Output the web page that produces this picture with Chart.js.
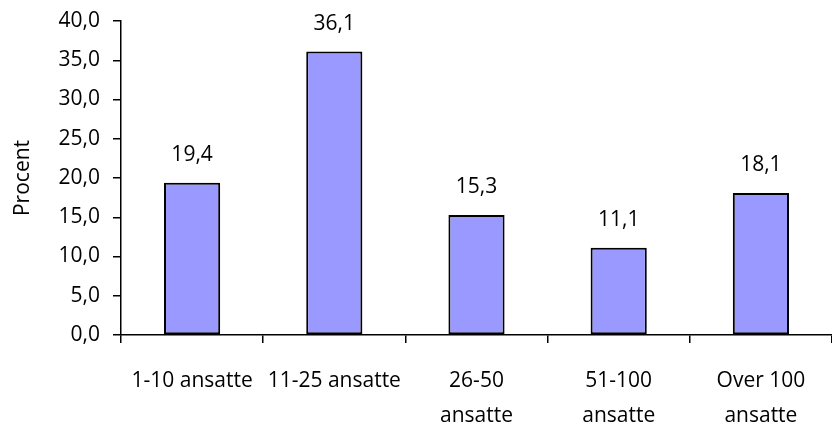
<!DOCTYPE html>
<html>
<head>
<meta charset="utf-8">
<script src="https://cdn.jsdelivr.net/npm/chart.js@4/dist/chart.umd.min.js"></script>
<style>
  html, body { margin: 0; padding: 0; background: #fff; }
  #wrap { width: 832px; height: 425px; }
</style>
</head>
<body>
<div id="wrap"><canvas id="c" width="832" height="425"></canvas></div>
<script>
// Virksomheder fordelt på antal ansatte (procent)
const categories = [
  '1-10 ansatte',
  '11-25 ansatte',
  ['26-50', 'ansatte'],
  ['51-100', 'ansatte'],
  ['Over 100', 'ansatte']
];
const procent = [19.4, 36.1, 15.3, 11.1, 18.1];
const yTicks = [0, 5, 10, 15, 20, 25, 30, 35, 40];

const FONT = "'Open Sans', 'Liberation Sans', sans-serif";
const SIZE = 21;
const fmt = v => Number(v).toFixed(1).replace('.', ',');

// Writes each bar's value above it
const valueLabels = {
  id: 'valueLabels',
  afterDatasetsDraw(chart) {
    const ctx = chart.ctx;
    const meta = chart.getDatasetMeta(0);
    const ds = chart.data.datasets[0];
    ctx.save();
    ctx.font = SIZE + 'px ' + FONT;
    ctx.fillStyle = '#000';
    ctx.textAlign = 'center';
    ctx.textBaseline = 'middle';
    meta.data.forEach((bar, i) => {
      ctx.fillText(fmt(ds.data[i]), bar.x, bar.y - 28);
    });
    ctx.restore();
  }
};

new Chart(document.getElementById('c'), {
  type: 'bar',
  data: {
    labels: categories,
    datasets: [{
      data: procent,
      backgroundColor: '#9999ff',
      borderColor: '#000',
      borderWidth: 2,
      borderSkipped: false,
      barPercentage: 0.395,
      categoryPercentage: 1
    }]
  },
  options: {
    responsive: false,
    animation: false,
    devicePixelRatio: 1,
    layout: { padding: { left: 0, top: 21, right: 0, bottom: 0 } },
    plugins: { legend: { display: false }, tooltip: { enabled: false } },
    scales: {
      x: {
        grid: {
          offset: true,
          drawOnChartArea: false,
          drawTicks: true,
          tickLength: 8,
          color: '#000',
          lineWidth: 1.5
        },
        border: { color: '#000', width: 1.5 },
        ticks: {
          color: '#000',
          padding: 21,
          maxRotation: 0,
          autoSkip: false,
          font: { family: FONT, size: SIZE, lineHeight: 1.667 }
        },
        afterFit(scale) {
          scale.height = 90;
          scale.paddingLeft = 0;
          scale.paddingRight = 0;
        }
      },
      y: {
        min: 0,
        max: 40,
        afterBuildTicks(scale) { scale.ticks = yTicks.map(v => ({ value: v })); },
        grid: {
          drawOnChartArea: false,
          drawTicks: true,
          tickLength: 8,
          color: '#000',
          lineWidth: 1.5
        },
        border: { color: '#000', width: 1.5 },
        ticks: {
          color: '#000',
          padding: 13,
          callback: v => fmt(v),
          font: { family: FONT, size: SIZE }
        },
        title: {
          display: true,
          text: 'Procent',
          color: '#000',
          padding: { top: 10, bottom: 0 },
          font: { family: FONT, size: SIZE }
        },
        afterFit(scale) {
          scale.width = 121;
          scale.paddingTop = 0;
          scale.paddingBottom = 0;
        }
      }
    }
  },
  plugins: [valueLabels]
});
</script>
</body>
</html>
